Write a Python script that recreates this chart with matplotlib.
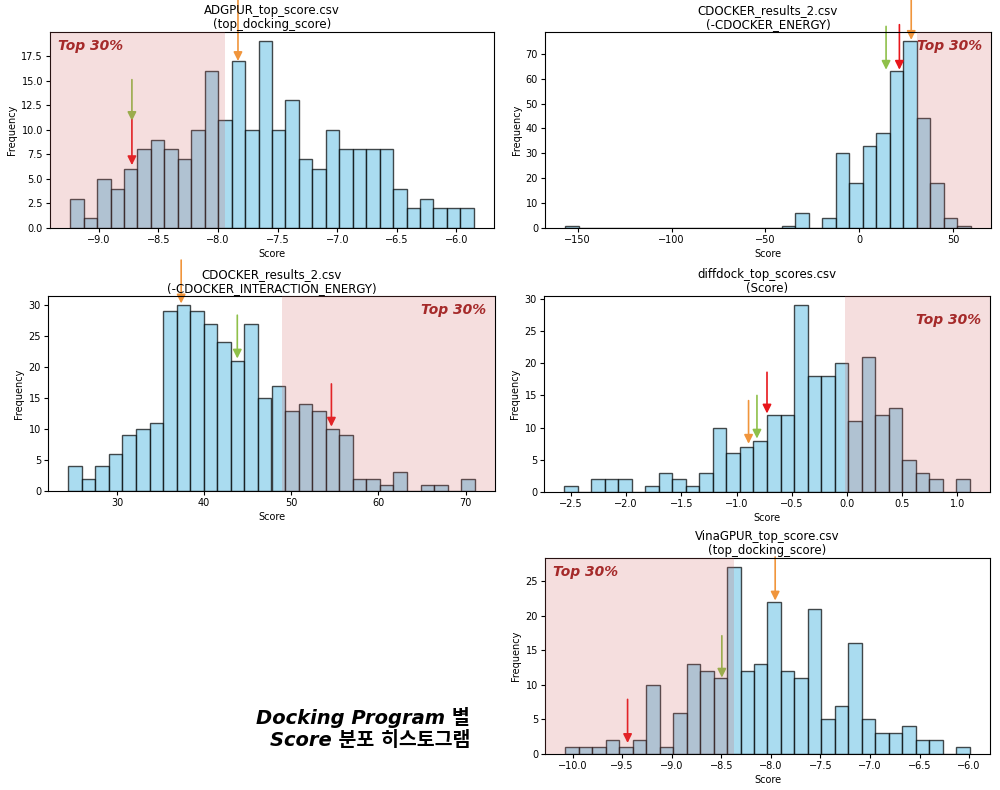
import numpy as np
import matplotlib
matplotlib.use("Agg")
import matplotlib.pyplot as plt

# ---------------- data ----------------
titles = [
    "ADGPUR_top_score.csv\n(top_docking_score)",
    "CDOCKER_results_2.csv\n(-CDOCKER_ENERGY)",
    "CDOCKER_results_2.csv\n(-CDOCKER_INTERACTION_ENERGY)",
    "diffdock_top_scores.csv\n(Score)",
    "VinaGPUR_top_score.csv\n(top_docking_score)",
]

# histogram ranges (min, max of score) and 30-bin counts
adgpur_range = (-9.241, -5.854)
adgpur_counts = [3, 1, 5, 4, 6, 8, 9, 8, 7, 10, 16, 11, 17, 10, 19,
                 10, 13, 7, 6, 10, 8, 8, 8, 8, 4, 2, 3, 2, 2, 2]

cd_energy_range = (-156.6, 59.4)
cd_energy_counts = [1, 0, 0, 0, 0, 0, 0, 0, 0, 0, 0, 0, 0, 0, 0,
                    0, 1, 6, 0, 4, 30, 18, 33, 38, 63, 75, 44, 18, 4, 1]

cd_inter_range = (24.41, 71.04)
cd_inter_counts = [4, 2, 4, 6, 9, 10, 11, 29, 30, 29, 27, 24, 21, 27, 15,
                   17, 13, 14, 13, 10, 9, 2, 2, 1, 3, 0, 1, 1, 0, 2]

diffdock_range = (-2.560, 1.112)
diffdock_counts = [1, 0, 2, 2, 2, 0, 1, 3, 2, 1, 3, 10, 6, 7, 8,
                   12, 12, 29, 18, 18, 20, 11, 21, 12, 13, 5, 3, 2, 0, 2]

vina_range = (-10.074, -5.993)
vina_counts = [1, 1, 1, 2, 1, 2, 10, 1, 6, 13, 12, 11, 27, 12, 13,
               22, 12, 11, 21, 5, 7, 16, 5, 3, 3, 4, 2, 2, 0, 1]

# top-30% thresholds and side
thresholds = [-7.945, 30.8, 48.9, -0.02, -8.37]
top_side = ["left", "right", "right", "right", "left"]

# arrows: (x, tip_y, tail_y, colour-key)
arrows_adgpur = [(-8.723, 10.9, 15.1, "green"), (-8.723, 6.4, 11.0, "red"),
                 (-7.833, 17.0, 23.3, "orange")]
arrows_cd_energy = [(14.3, 63.6, 81.0, "green"), (21.4, 63.6, 81.7, "red"),
                    (27.7, 75.6, 91.7, "orange")]
arrows_cd_inter = [(37.36, 30.3, 37.3, "orange"), (43.8, 21.4, 28.4, "green"),
                   (54.6, 10.4, 17.3, "red")]
arrows_diffdock = [(-0.891, 7.5, 14.2, "orange"), (-0.815, 8.3, 15.0, "green"),
                   (-0.724, 12.2, 18.6, "red")]
arrows_vina = [(-9.445, 1.6, 7.9, "red"), (-8.494, 11.05, 17.1, "green"),
               (-7.956, 22.2, 28.5, "orange")]

ranges = [adgpur_range, cd_energy_range, cd_inter_range, diffdock_range, vina_range]
counts = [adgpur_counts, cd_energy_counts, cd_inter_counts, diffdock_counts, vina_counts]
arrows = [arrows_adgpur, arrows_cd_energy, arrows_cd_inter, arrows_diffdock, arrows_vina]

arrow_colors = {"green": "#8fc04a", "red": "#e8161b", "orange": "#f0953c"}

# ---------------- layout ----------------
W, H = 1000, 790
# axes boxes in pixel coords: left, top, right, bottom
boxes = [
    (50, 32, 494, 228),
    (545, 32, 991, 228),
    (48, 296, 495, 491),
    (544, 296, 990, 492),
    (545, 558, 990, 754),
]
label_y = [0.93, 0.93, 0.93, 0.88, 0.93]

fig = plt.figure(figsize=(W / 100, H / 100), dpi=100)

for i in range(5):
    l, t, r, b = boxes[i]
    ax = fig.add_axes([l / W, 1 - b / H, (r - l) / W, (b - t) / H])
    lo, hi = ranges[i]
    c = np.array(counts[i], dtype=float)
    edges = np.linspace(lo, hi, len(c) + 1)
    ax.hist(edges[:-1], bins=edges, weights=c, color="skyblue",
            edgecolor="black", alpha=0.7, linewidth=1.0, zorder=1)
    xl = ax.get_xlim()
    yl = ax.get_ylim()

    for (x, tip, tail, ck) in arrows[i]:
        ax.annotate("", xy=(x, tip), xytext=(x, tail),
                    arrowprops=dict(arrowstyle="-|>", color=arrow_colors[ck],
                                    lw=1.2, mutation_scale=13,
                                    shrinkA=0, shrinkB=0),
                    annotation_clip=False, zorder=2)

    if top_side[i] == "left":
        ax.axvspan(xl[0], thresholds[i], color="indianred", alpha=0.2,
                   lw=0, zorder=3)
        ax.text(0.018, label_y[i], "Top 30%", transform=ax.transAxes,
                ha="left", va="center", fontsize=10, fontweight="bold",
                fontstyle="italic", color="#a52a2a", zorder=4)
    else:
        ax.axvspan(thresholds[i], xl[1], color="indianred", alpha=0.2,
                   lw=0, zorder=3)
        ax.text(0.98, label_y[i], "Top 30%", transform=ax.transAxes,
                ha="right", va="center", fontsize=10, fontweight="bold",
                fontstyle="italic", color="#a52a2a", zorder=4)
    ax.set_xlim(xl)
    ax.set_ylim(yl)

    ax.set_title(titles[i], fontsize=8.5, pad=3, linespacing=1.1)
    ax.set_xlabel("Score", fontsize=7, labelpad=3)
    ax.set_ylabel("Frequency", fontsize=7, labelpad=3)
    ax.tick_params(labelsize=7, length=3, pad=2)

fig.text(0.47, 0.078, "Docking Program 별\nScore 분포 히스토그램",
         ha="right", va="center", fontsize=14, fontweight="bold",
         fontstyle="italic", linespacing=1.15,
         family=["DejaVu Sans", "Noto Sans CJK KR"])

fig.savefig("out.png", dpi=100)
